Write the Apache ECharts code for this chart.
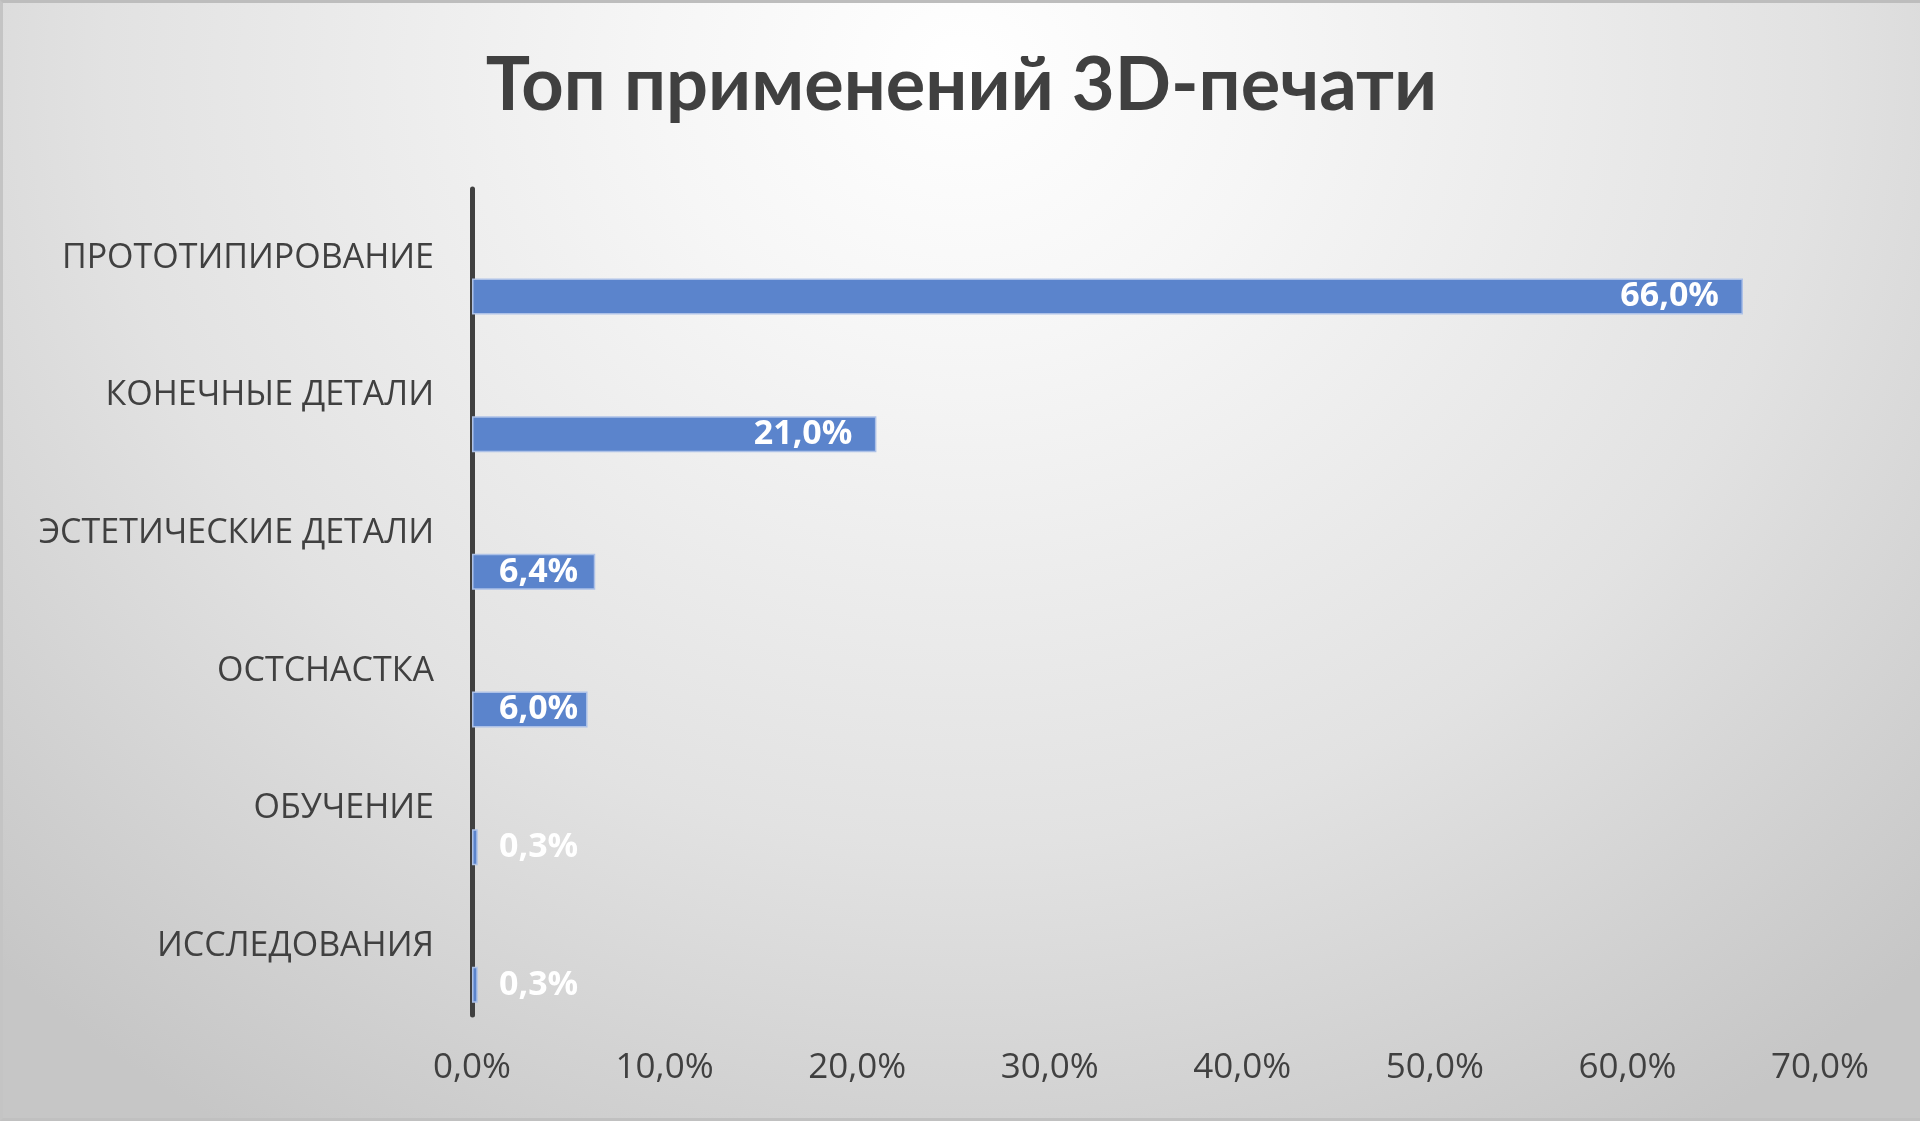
<!DOCTYPE html>
<html>
<head>
<meta charset="utf-8">
<script src="https://cdn.jsdelivr.net/npm/echarts@6/dist/echarts.min.js"></script>
<style>
html,body{margin:0;padding:0;width:1920px;height:1121px;overflow:hidden;}
#chart{width:1920px;height:1121px;box-sizing:border-box;border-top:3px solid #bdbdbd;border-bottom:3px solid #c0c0c0;border-left:3px solid #c4c4c4;
background:radial-gradient(ellipse 72% 112% at 50% 6%, #ffffff 0%, #f6f6f6 22%, #e2e2e2 62%, #c6c6c6 100%);}
</style>
</head>
<body>
<div id="chart"></div>
<script>
var titleText = 'Топ применений 3D-печати';
var categories = ['ПРОТОТИПИРОВАНИЕ','КОНЕЧНЫЕ ДЕТАЛИ','ЭСТЕТИЧЕСКИЕ ДЕТАЛИ','ОСТСНАСТКА','ОБУЧЕНИЕ','ИССЛЕДОВАНИЯ'];
var values = [66.0, 21.0, 6.4, 6.0, 0.3, 0.3];
var xTicks = [0, 10, 20, 30, 40, 50, 60, 70];

function pct(v){ return v.toFixed(1).replace('.', ',') + '%'; }

var chart = echarts.init(document.getElementById('chart'), null, {renderer:'canvas'});
var FONT = '"Open Sans", "DejaVu Sans", sans-serif';
var barData = values.map(function(v){
  return {
    value: v,
    label: v > 10 ? {position:'insideRight', distance: 24} : {position:'insideLeft', distance: 27}
  };
});
chart.setOption({
  backgroundColor: 'transparent',
  animation: false,
  title: {
    text: titleText, left: 'center', top: 41,
    textStyle: {fontFamily: 'Lato, "Open Sans", sans-serif', fontSize: 74, fontWeight: 'bold', color: '#404040'}
  },
  grid: {left: 469, right: 100, top: 186, bottom: 103, containLabel: false},
  xAxis: {
    type: 'value', min: xTicks[0], max: xTicks[xTicks.length-1], interval: xTicks[1]-xTicks[0],
    axisLine: {show: false}, axisTick: {show: false}, splitLine: {show: false},
    axisLabel: {formatter: pct, fontFamily: FONT, fontSize: 35, color: '#404040', margin: 36}
  },
  yAxis: {
    type: 'category', data: categories, inverse: true,
    axisLine: {show: true, lineStyle: {color: '#404040', width: 5}},
    axisTick: {show: false},
    axisLabel: {fontFamily: FONT, fontSize: 34, color: '#404040', margin: 38}
  },
  series: [
    {type: 'bar', data: values.map(function(){return null;}), barWidth: 36, barGap: '115%', silent: true},
    {type: 'bar', data: barData, barWidth: 36, barGap: '115%',
     itemStyle: {color: '#5b84cc', borderColor: '#adc1e7', borderWidth: 1.5},
     label: {show: true, formatter: function(p){return pct(p.value);}, color: '#ffffff',
             fontFamily: FONT, fontSize: 34, fontWeight: 'bold'}
    }
  ]
});
</script>
</body>
</html>
